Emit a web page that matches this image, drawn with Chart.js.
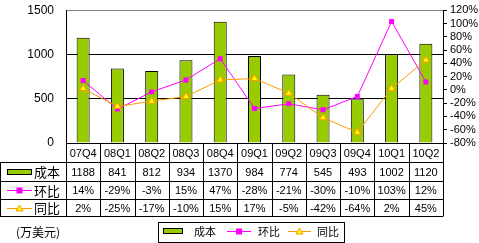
<!DOCTYPE html>
<html>
<head>
<meta charset="utf-8">
<script src="https://cdn.jsdelivr.net/npm/chart.js@4"></script>
<style>
  html, body { margin: 0; padding: 0; background: #fff; }
</style>
</head>
<body>
<canvas id="myChart" width="479" height="243"></canvas>
<script>
const quarters = ['07Q4', '08Q1', '08Q2', '08Q3', '08Q4', '09Q1', '09Q2', '09Q3', '09Q4', '10Q1', '10Q2'];
const cost = [1188, 841, 812, 934, 1370, 984, 774, 545, 493, 1002, 1120];   // 成本
const qoq = [14, -29, -3, 15, 47, -28, -21, -30, -10, 103, 12];             // 环比
const yoy = [2, -25, -17, -10, 15, 17, -5, -42, -64, 2, 45];                // 同比

const GREEN = '#99CC00';
const MAGENTA = '#FF00FF';
const ORANGE = '#FF9900';
const YELLOW = '#FFFF00';
const CJK = '"Noto Sans CJK SC", sans-serif';
const NUM = '"Liberation Sans", Arial, sans-serif';

Chart.defaults.font.family = NUM;
Chart.defaults.color = '#000';

// draw little legend keys (used by table and legend box)
function drawKey(ctx, kind, x1, x2, y) {
    let cx = (x1 + x2) / 2;
    if (kind == 'bar') {
        ctx.fillStyle = GREEN;
        ctx.fillRect(x1, y - 3, x2 - x1, 6);
        ctx.strokeStyle = '#000';
        ctx.lineWidth = 1;
        ctx.strokeRect(x1 + 0.5, y - 2.5, x2 - x1 - 1, 5);
    } else if (kind == 'qoq') {
        ctx.strokeStyle = MAGENTA;
        ctx.lineWidth = 1;
        ctx.beginPath();
        ctx.moveTo(x1, y + 0.5); ctx.lineTo(x2, y + 0.5);
        ctx.stroke();
        ctx.fillStyle = MAGENTA;
        ctx.fillRect(cx - 3, y - 2.5, 6, 6);
    } else {
        ctx.strokeStyle = ORANGE;
        ctx.lineWidth = 1;
        ctx.beginPath();
        ctx.moveTo(x1, y + 0.5); ctx.lineTo(x2, y + 0.5);
        ctx.stroke();
        ctx.beginPath();
        ctx.moveTo(cx, y - 3); ctx.lineTo(cx + 3.5, y + 3); ctx.lineTo(cx - 3.5, y + 3);
        ctx.closePath();
        ctx.fillStyle = YELLOW;
        ctx.fill();
        ctx.stroke();
    }
}

const tablePlugin = {
    id: 'dataTable',
    afterDraw(chart) {
        const ctx = chart.ctx;
        const a = chart.chartArea;
        const xs = chart.scales.x;
        const n = quarters.length;
        const w = (a.right - a.left) / n;
        const rows = [a.bottom, a.bottom + 19, a.bottom + 38, a.bottom + 56, a.bottom + 73];

        ctx.save();
        ctx.strokeStyle = '#000';
        ctx.lineWidth = 1;
        ctx.beginPath();
        ctx.moveTo(a.left, Math.round(rows[0]) + 0.5);
        ctx.lineTo(a.right, Math.round(rows[0]) + 0.5);
        for (let r = 1; r < rows.length; r++) {
            ctx.moveTo(0, Math.round(rows[r]) + 0.5);
            ctx.lineTo(a.right, Math.round(rows[r]) + 0.5);
        }
        for (let i = 0; i <= n; i++) {
            let x = Math.round(a.left + i * w) + 0.5;
            ctx.moveTo(x, rows[0]);
            ctx.lineTo(x, rows[4] + 0.5);
        }
        ctx.moveTo(0.5, rows[1]);
        ctx.lineTo(0.5, rows[4] + 0.5);
        ctx.stroke();

        ctx.fillStyle = '#000';
        ctx.textAlign = 'center';
        ctx.textBaseline = 'middle';
        ctx.font = '11px ' + NUM;
        for (let i = 0; i < n; i++) {
            let x = xs.getPixelForValue(i);
            ctx.fillText(quarters[i], x, (rows[0] + rows[1]) / 2 + 1);
            ctx.fillText(String(cost[i]), x, (rows[1] + rows[2]) / 2 + 1);
            ctx.fillText(qoq[i] + '%', x, (rows[2] + rows[3]) / 2 + 1);
            ctx.fillText(yoy[i] + '%', x, (rows[3] + rows[4]) / 2 + 1);
        }

        // row headers
        const labels = ['成本', '环比', '同比'];
        const kinds = ['bar', 'qoq', 'yoy'];
        for (let r = 0; r < 3; r++) {
            let y = (rows[r + 1] + rows[r + 2]) / 2;
            drawKey(ctx, kinds[r], 7, 32, Math.round(y));
            ctx.fillStyle = '#000';
            ctx.textAlign = 'left';
            ctx.font = '13px ' + CJK;
            ctx.fillText(labels[r], 34, y + 1);
        }

        // unit
        ctx.font = '12px ' + CJK;
        ctx.fillText('(万美元)', 16, 232);

        // legend box
        ctx.strokeStyle = '#000';
        ctx.strokeRect(158.5, 222.5, 186, 20);
        drawKey(ctx, 'bar', 163, 183, 231);
        drawKey(ctx, 'qoq', 227, 251, 231);
        drawKey(ctx, 'yoy', 288, 311, 231);
        ctx.fillStyle = '#000';
        ctx.font = '11px ' + CJK;
        ctx.fillText('成本', 194, 232);
        ctx.fillText('环比', 258, 232);
        ctx.fillText('同比', 317, 232);
        ctx.restore();
    }
};

const chrt = document.getElementById('myChart');

const data = {
    labels: quarters,
    datasets: [{
        type: 'line',
        label: '环比',
        data: qoq,
        yAxisID: 'y1',
        borderColor: MAGENTA,
        borderWidth: 1,
        backgroundColor: MAGENTA,
        pointStyle: 'rect',
        pointRadius: 3.5,
        pointBorderWidth: 0,
        tension: 0,
        order: 1
    }, {
        type: 'line',
        label: '同比',
        data: yoy,
        yAxisID: 'y1',
        borderColor: ORANGE,
        borderWidth: 1,
        backgroundColor: YELLOW,
        pointStyle: 'triangle',
        pointRadius: 4,
        pointBorderColor: ORANGE,
        pointBorderWidth: 1,
        tension: 0,
        order: 0
    }, {
        type: 'bar',
        label: '成本',
        data: cost,
        yAxisID: 'y',
        backgroundColor: GREEN,
        borderColor: '#000',
        borderWidth: 1,
        barPercentage: 0.38,
        categoryPercentage: 1,
        order: 2
    }]
};

new Chart(chrt, {
    data: data,
    plugins: [tablePlugin],
    options: {
        responsive: false,
        animation: false,
        layout: { padding: { left: 0, right: 0, top: 0, bottom: 100 } },
        plugins: {
            legend: { display: false },
            tooltip: { enabled: false }
        },
        scales: {
            x: {
                display: false,
                offset: true
            },
            y: {
                position: 'left',
                min: 0,
                max: 1500,
                ticks: { stepSize: 500, padding: 3, font: { size: 12 }, color: '#000', callback: v => String(v) },
                grid: {
                    drawTicks: true,
                    tickLength: 9,
                    tickColor: 'rgba(0,0,0,0)',
                    color: (c) => c.tick && c.tick.value == 1500 ? '#808080' : '#000'
                },
                border: { display: true, color: '#000' },
                afterFit: (s) => { s.width = 66; }
            },
            y1: {
                position: 'right',
                min: -80,
                max: 120,
                ticks: { stepSize: 20, autoSkip: false, padding: 3, font: { size: 11 }, color: '#000', callback: v => v + '%' },
                grid: { drawOnChartArea: false, tickLength: 4, color: '#000' },
                border: { display: true, color: '#000' },
                afterFit: (s) => { s.width = 36; }
            }
        }
    }
});
</script>
</body>
</html>
